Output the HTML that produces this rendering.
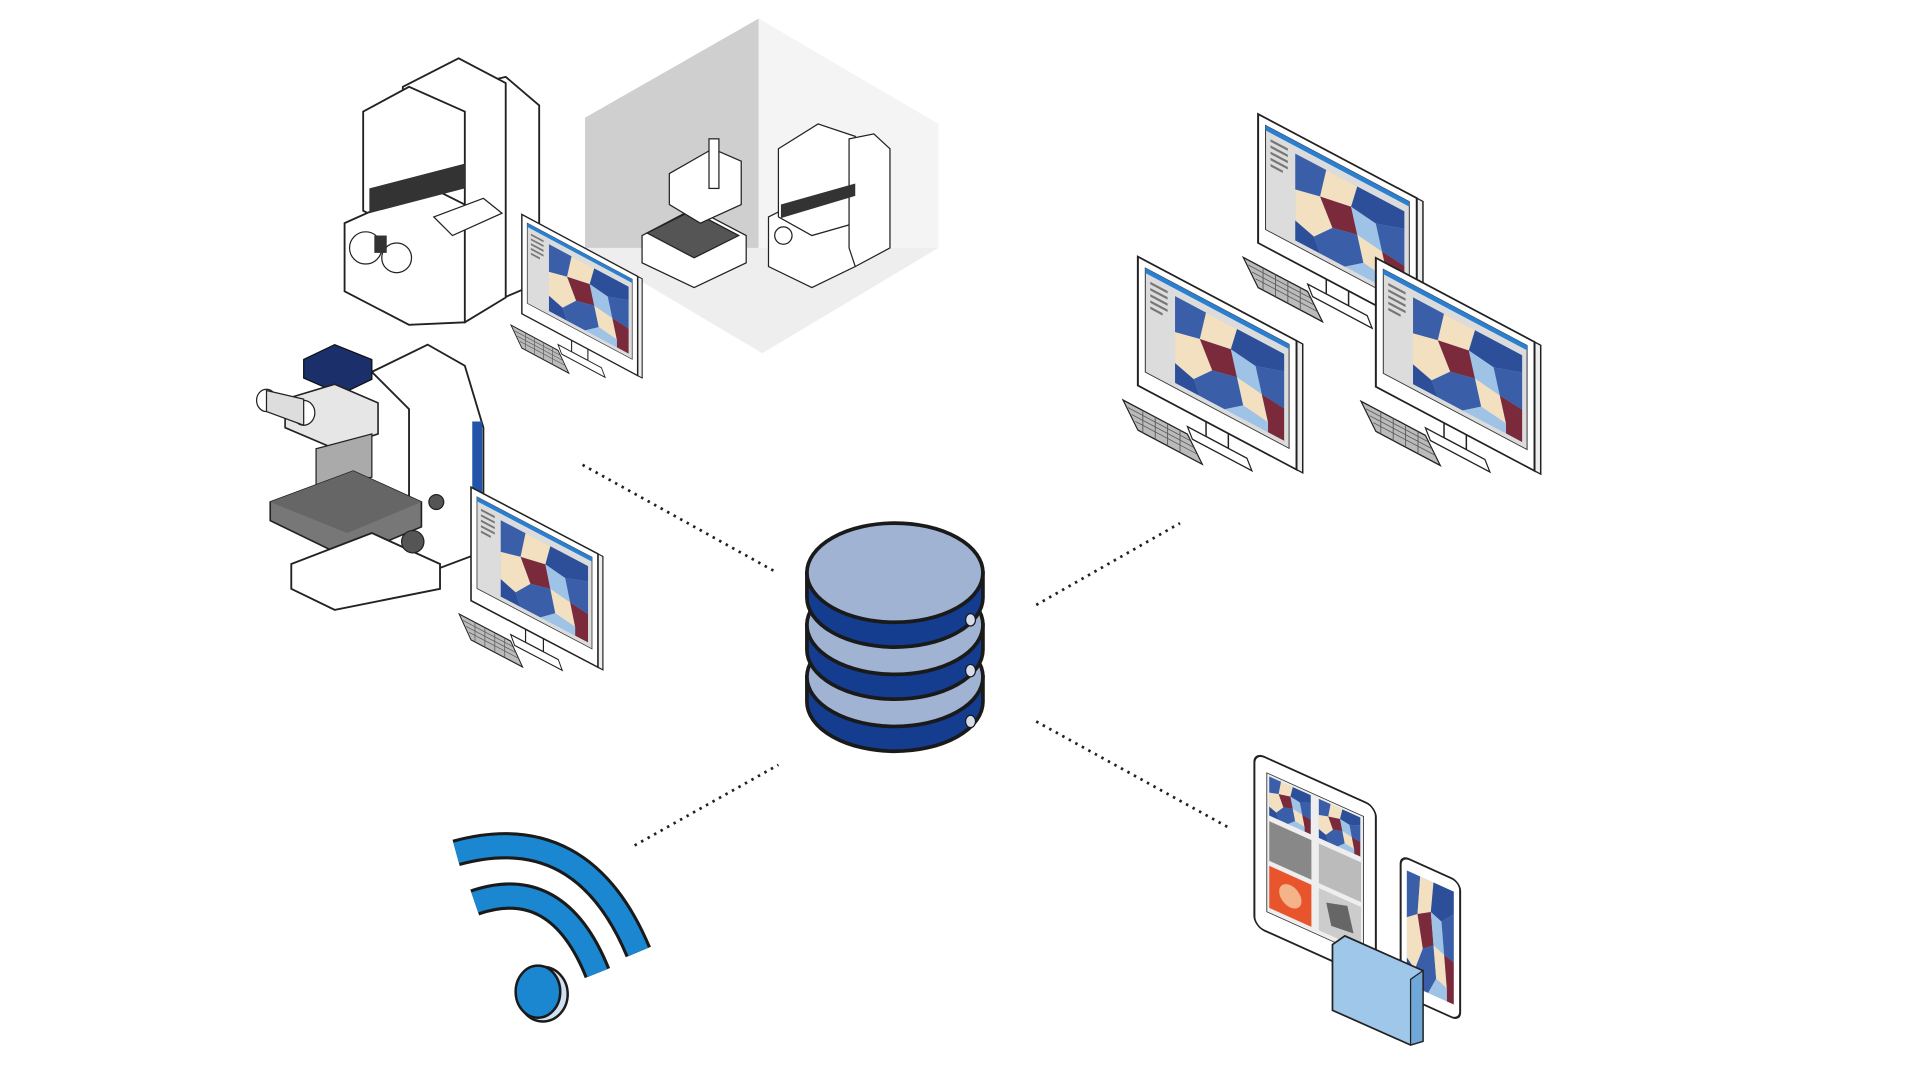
<!DOCTYPE html>
<html><head><meta charset="utf-8"><style>
html,body{margin:0;padding:0;background:#fff;}
svg{display:block;}
</style></head><body>
<svg width="1920" height="1076" viewBox="0 0 1549 868" preserveAspectRatio="none" xmlns="http://www.w3.org/2000/svg">
<defs>
<g id="shot">
  <rect x="30" y="16" width="88" height="70" fill="#9fc3e6"/>
  <polygon points="30,16 55,16 50,40 30,45" fill="#3a5fa8"/>
  <polygon points="55,16 80,16 75,35 50,40" fill="#f3e0c0"/>
  <polygon points="80,16 118,16 118,30 95,38 75,35" fill="#2d4f9a"/>
  <polygon points="30,45 50,40 60,60 45,75 30,70" fill="#f3e0c0"/>
  <polygon points="50,40 75,35 80,55 60,60" fill="#7a2a3a"/>
  <polygon points="75,35 95,38 100,58 80,55" fill="#9fc3e6"/>
  <polygon points="95,38 118,30 118,60 100,58" fill="#3a5fa8"/>
  <polygon points="30,70 45,75 50,86 30,86" fill="#2d4f9a"/>
  <polygon points="60,60 80,55 85,75 70,86 50,86 45,75" fill="#3a5fa8"/>
  <polygon points="80,55 100,58 105,78 85,75" fill="#f3e0c0"/>
  <polygon points="100,58 118,60 118,86 105,86 105,78" fill="#7a2a3a"/>
  <polygon points="85,75 105,78 105,86 70,86" fill="#9fc3e6"/>
</g>
<g id="mon">
  <polygon points="-12,122 40,122 52,140 0,140" fill="#bbb" stroke="#222" stroke-width="1.2"/>
  <path d="M-8,126h50M-5,130h50M-2,134h50M14,122v18M24,122v18M34,122v18M4,122v18" stroke="#555" stroke-width="0.7"/>
  <rect x="55" y="100" width="18" height="16" fill="#fff" stroke="#222" stroke-width="1.2"/>
  <polygon points="40,116 88,116 92,124 44,124" fill="#fff" stroke="#222" stroke-width="1.2"/>
  <rect x="128" y="0" width="5" height="104" fill="#eee" stroke="#222" stroke-width="1.2"/>
  <rect x="0" y="0" width="128" height="104" fill="#fff" stroke="#222" stroke-width="1.6"/>
  <rect x="6" y="6" width="116" height="84" fill="#dcdcdc" stroke="#333" stroke-width="0.8"/>
  <rect x="6" y="6" width="116" height="4" fill="#2a7fd0"/>
  <path d="M10,16h14M10,21h14M10,26h14M10,31h14M10,36h10" stroke="#777" stroke-width="2"/>
  <use href="#shot"/>
</g>
</defs>

<!-- gray room -->
<polygon points="472,95 612,15 757,100 757,200 615,285 472,200" fill="#eeeeee"/>
<polygon points="472,95 612,15 612,200 472,200" fill="#cfcfcf"/>
<polygon points="612,15 757,100 757,200 612,200" fill="#f4f4f4"/>
<!-- small instruments in room -->
<polygon points="518,190 560,168 602,190 602,212 560,232 518,212" fill="#fff" stroke="#222"/>
<polygon points="522,188 558,170 596,190 560,208" fill="#555" stroke="#222"/>
<polygon points="540,140 575,120 598,130 598,165 565,180 540,165" fill="#fff" stroke="#222"/>
<rect x="572" y="112" width="8" height="40" fill="#fff" stroke="#222"/>
<polygon points="620,175 650,160 690,170 690,215 655,232 620,215" fill="#fff" stroke="#222"/>
<polygon points="628,120 660,100 690,110 690,180 655,190 628,175" fill="#fff" stroke="#222"/>
<polygon points="685,112 705,108 718,120 718,200 690,215 685,200" fill="#fff" stroke="#222"/>
<polygon points="630,165 690,148 690,158 630,176" fill="#333"/>
<circle cx="632" cy="190" r="7" fill="#fff" stroke="#222"/>

<!-- big microscope -->
<polygon points="375,70 408,62 435,85 435,228 395,245 375,235" fill="#fff" stroke="#222" stroke-width="1.5"/>
<polygon points="325,70 370,47 408,67 408,240 375,260 325,240" fill="#fff" stroke="#222" stroke-width="1.5"/>
<polygon points="293,90 330,70 375,90 375,170 330,190 293,170" fill="#fff" stroke="#222" stroke-width="1.5"/>
<polygon points="278,180 345,150 375,165 375,260 330,262 278,235" fill="#fff" stroke="#222" stroke-width="1.5"/>
<polygon points="298,152 375,132 375,152 298,172" fill="#333"/>
<polygon points="350,175 390,160 405,172 365,190" fill="#fff" stroke="#222"/>
<circle cx="295" cy="200" r="13" fill="#fff" stroke="#222"/>
<circle cx="320" cy="208" r="12" fill="#fff" stroke="#222"/>
<rect x="302" y="190" width="10" height="14" fill="#333"/>

<!-- light microscope -->
<polygon points="300,300 345,278 375,295 390,345 390,445 350,460 330,445 330,330" fill="#fff" stroke="#222" stroke-width="1.5"/>
<rect x="381" y="340" width="8" height="82" fill="#2255aa"/>
<polygon points="245,290 270,278 300,290 300,306 275,318 245,305" fill="#1b2f6b" stroke="#111"/>
<polygon points="230,322 270,310 305,325 305,350 270,362 230,345" fill="#e6e6e6" stroke="#222" stroke-width="1.3"/>
<ellipse cx="215" cy="323" rx="8" ry="9" fill="#fff" stroke="#222"/>
<ellipse cx="245" cy="333" rx="9" ry="10" fill="#fff" stroke="#222"/>
<polygon points="215,315 245,322 245,343 215,332" fill="#ddd" stroke="#222"/>
<polygon points="255,362 300,350 300,385 255,392" fill="#aaa" stroke="#222"/>
<polygon points="218,405 285,380 340,405 340,425 280,450 218,420" fill="#777" stroke="#222" stroke-width="1.3"/>
<polygon points="218,405 285,380 340,405 280,430" fill="#666"/>
<polygon points="235,455 300,430 355,455 355,475 270,492 235,475" fill="#fff" stroke="#222" stroke-width="1.5"/>
<circle cx="352" cy="405" r="6" fill="#555" stroke="#222"/>
<circle cx="333" cy="437" r="9" fill="#555" stroke="#222"/>

<!-- monitors -->
<g transform="matrix(0.73,0.39,0,0.77,421,173)"><use href="#mon"/></g>
<g transform="matrix(0.8,0.42,0,0.88,380,393)"><use href="#mon"/></g>
<g transform="matrix(1,0.53,0,1,1015,92)"><use href="#mon"/></g>
<g transform="matrix(1,0.53,0,1,918,207)"><use href="#mon"/></g>
<g transform="matrix(1,0.53,0,1,1110,208)"><use href="#mon"/></g>

<!-- dotted connectors -->
<g stroke="#222" stroke-width="2.2" stroke-dasharray="2 4" fill="none">
<line x1="470" y1="375" x2="627" y2="462"/>
<line x1="512" y1="682" x2="628" y2="617"/>
<line x1="836" y1="488" x2="952" y2="422"/>
<line x1="836" y1="582" x2="992" y2="668"/>
</g>

<!-- database -->
<g stroke="#1a1a1a" stroke-width="3">
<path d="M651,546 v20 a71,40 0 0 0 142,0 v-20 z" fill="#143c8f"/>
<ellipse cx="722" cy="546" rx="71" ry="40" fill="#a0b3d3"/>
<path d="M651,504 v20 a71,40 0 0 0 142,0 v-20 z" fill="#143c8f"/>
<ellipse cx="722" cy="504" rx="71" ry="40" fill="#a0b3d3"/>
<path d="M651,462 v20 a71,40 0 0 0 142,0 v-20 z" fill="#143c8f"/>
<ellipse cx="722" cy="462" rx="71" ry="40" fill="#a0b3d3"/>
</g>
<g fill="#d5dded" stroke="#1a1a1a" stroke-width="1">
<ellipse cx="783" cy="500" rx="4" ry="5"/>
<ellipse cx="783" cy="541" rx="4" ry="5"/>
<ellipse cx="783" cy="582" rx="4" ry="5"/>
</g>

<!-- wifi -->
<g fill="none" stroke-linecap="butt">
<path d="M368,688 Q470,660 515,768" stroke="#1a1a1a" stroke-width="22"/>
<path d="M368,688 Q470,660 515,768" stroke="#1a87d0" stroke-width="17"/>
<path d="M383,728 Q450,705 482,785" stroke="#1a1a1a" stroke-width="22"/>
<path d="M383,728 Q450,705 482,785" stroke="#1a87d0" stroke-width="17"/>
</g>
<ellipse cx="438" cy="802" rx="20" ry="22" fill="#cfe0f0" stroke="#1a1a1a" stroke-width="2"/>
<ellipse cx="434" cy="800" rx="18" ry="21" fill="#1a87d0" stroke="#1a1a1a" stroke-width="2"/>

<!-- tablet -->
<g transform="matrix(1,0.45,0,1,1012,607)">
  <rect x="0" y="0" width="98" height="140" rx="8" fill="#fff" stroke="#222" stroke-width="1.6"/>
  <rect x="10" y="12" width="78" height="112" fill="#eee" stroke="#333" stroke-width="0.7"/>
  <g transform="translate(12,14) scale(0.38,0.45) translate(-30,-16)"><use href="#shot"/></g>
  <g transform="translate(52,14) scale(0.38,0.45) translate(-30,-16)"><use href="#shot"/></g>
  <rect x="12" y="50" width="34" height="32" fill="#888"/>
  <rect x="52" y="50" width="34" height="32" fill="#bbb"/>
  <rect x="12" y="86" width="34" height="34" fill="#e8552d"/>
  <circle cx="29" cy="103" r="9" fill="#f5b38a"/>
  <rect x="52" y="86" width="34" height="34" fill="#ccc"/>
  <polygon points="58,95 75,90 80,110 62,112" fill="#666"/>
</g>
<!-- phone -->
<g transform="matrix(1,0.45,0,1,1130,690)">
  <rect x="0" y="0" width="48" height="112" rx="7" fill="#fff" stroke="#222" stroke-width="1.6"/>
  <g transform="translate(5,10) scale(0.43,1.3) translate(-30,-16)"><use href="#shot"/></g>
</g>
<!-- folded device -->
<polygon points="1075,762 1085,755 1148,783 1148,840 1138,843 1075,815" fill="#9ec7ea" stroke="#222" stroke-width="1.4"/>
<polygon points="1138,790 1148,783 1148,840 1138,843" fill="#6fa8d8" stroke="#222" stroke-width="1"/>
</svg>
</body></html>
